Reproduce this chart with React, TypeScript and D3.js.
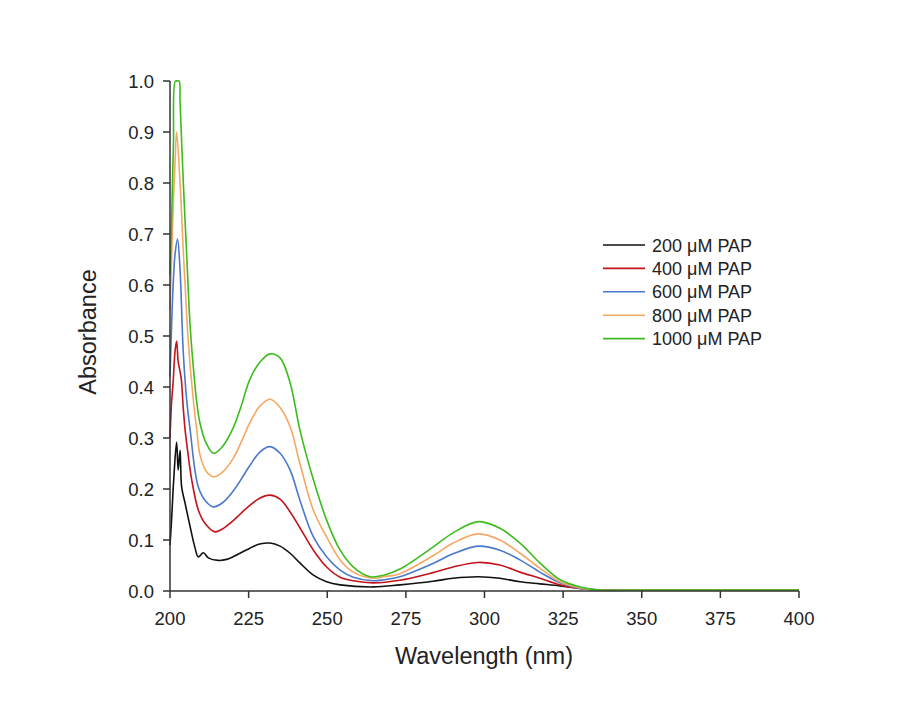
import React from "react";
import * as d3 from "d3";

// ---- data ----
const seriesNames = ["200 \u03bcM PAP", "400 \u03bcM PAP", "600 \u03bcM PAP", "800 \u03bcM PAP", "1000 \u03bcM PAP"];
const seriesColors = ["#111111", "#c3141c", "#4a78cc", "#f6a862", "#3cbc1c"];

const wl200 = [200, 200.5, 201.2, 202.1, 202.6, 203.2, 203.7, 204.8, 206.4, 207.9, 209, 210.6, 212.2, 215.3, 218, 220.7, 225.4, 228.5, 231.8, 235, 238.2, 241.3, 245.6, 249.8, 254.1, 264.6, 273.1, 283.6, 290, 298, 304.9, 311.3, 317.6, 324, 330.4, 336.7, 350, 375, 400];
const abs200 = [0.09, 0.14, 0.22, 0.292, 0.237, 0.276, 0.204, 0.172, 0.126, 0.086, 0.067, 0.075, 0.065, 0.06, 0.062, 0.069, 0.084, 0.092, 0.094, 0.088, 0.074, 0.055, 0.031, 0.018, 0.012, 0.008, 0.012, 0.019, 0.025, 0.028, 0.025, 0.018, 0.014, 0.01, 0.005, 0.002, 0.002, 0.002, 0.002];

const wl400 = [200, 200.5, 201, 201.6, 202.1, 202.6, 203.2, 203.6, 204.2, 204.8, 205.3, 206.9, 209, 211.1, 214.3, 216.5, 220.1, 222.5, 225.4, 228.5, 231.8, 235, 238.2, 241.3, 245.6, 249.8, 254.1, 258.3, 264.6, 273.1, 283.6, 290, 298, 304.9, 311.3, 317.6, 324, 330.4, 336.7, 350, 375, 400];
const abs400 = [0.3, 0.37, 0.41, 0.47, 0.49, 0.45, 0.43, 0.415, 0.36, 0.316, 0.29, 0.218, 0.159, 0.133, 0.116, 0.121, 0.138, 0.152, 0.168, 0.182, 0.188, 0.18, 0.155, 0.124, 0.08, 0.047, 0.027, 0.02, 0.016, 0.021, 0.036, 0.047, 0.056, 0.051, 0.037, 0.025, 0.012, 0.005, 0.002, 0.002, 0.002, 0.002];

const wl600 = [200, 200.5, 201, 201.6, 202.4, 203.2, 204.2, 205.3, 206.4, 209, 211.5, 213.8, 216.5, 220.1, 222.5, 225.4, 228.5, 231.8, 235, 238.2, 241.3, 245.6, 249.8, 254.1, 258.3, 264.6, 268, 273.1, 283.6, 290, 298, 304.9, 311.3, 317.6, 324, 330.4, 336.7, 350, 375, 400];
const abs600 = [0.42, 0.52, 0.6, 0.66, 0.69, 0.63, 0.47, 0.375, 0.316, 0.204, 0.175, 0.165, 0.172, 0.196, 0.218, 0.246, 0.272, 0.283, 0.27, 0.237, 0.178, 0.106, 0.067, 0.041, 0.027, 0.02, 0.022, 0.028, 0.054, 0.073, 0.088, 0.08, 0.061, 0.037, 0.016, 0.005, 0.002, 0.002, 0.002, 0.002];

const wl800 = [200, 200.5, 201, 201.6, 202.1, 203.2, 204.2, 204.8, 205.8, 207.4, 208.5, 209.5, 211.5, 214, 216.5, 220.1, 222.5, 225.4, 228.5, 231.8, 235, 238.2, 241.3, 245.6, 249.8, 254.1, 258.3, 264.6, 268, 273.1, 283.6, 290, 298, 304.9, 311.3, 317.6, 324, 330.4, 336.7, 350, 375, 400];
const abs800 = [0.55, 0.65, 0.75, 0.84, 0.9, 0.8, 0.67, 0.6, 0.49, 0.375, 0.316, 0.268, 0.235, 0.224, 0.232, 0.26, 0.29, 0.33, 0.362, 0.376, 0.36, 0.322, 0.25, 0.158, 0.106, 0.061, 0.037, 0.025, 0.028, 0.034, 0.069, 0.094, 0.112, 0.1, 0.074, 0.045, 0.018, 0.006, 0.002, 0.002, 0.002, 0.002];

const wl1000 = [200, 200.6, 201.1, 201.7, 202.3, 202.9, 203.2, 204.1, 205.3, 206.4, 207.4, 208.5, 209.5, 211.5, 213.8, 216.5, 220.1, 222.5, 225.4, 228.5, 231.8, 235, 238.2, 241.3, 245.6, 249.8, 254.1, 258.3, 263.6, 268, 273.1, 283.6, 290, 298, 304.9, 311.3, 317.6, 324, 330.4, 336.7, 350, 375, 400];
const abs1000 = [0.62, 0.75, 0.88, 1.0, 1.0, 1.0, 0.96, 0.82, 0.66, 0.52, 0.44, 0.37, 0.33, 0.29, 0.27, 0.282, 0.32, 0.36, 0.415, 0.448, 0.465, 0.457, 0.408, 0.316, 0.218, 0.139, 0.08, 0.047, 0.028, 0.031, 0.043, 0.086, 0.114, 0.136, 0.123, 0.094, 0.055, 0.022, 0.008, 0.002, 0.002, 0.002, 0.002];

const seriesWl = [wl200, wl400, wl600, wl800, wl1000];
const seriesAbs = [abs200, abs400, abs600, abs800, abs1000];

const xTicks = [200, 225, 250, 275, 300, 325, 350, 375, 400];
const yTicks = [0.0, 0.1, 0.2, 0.3, 0.4, 0.5, 0.6, 0.7, 0.8, 0.9, 1.0];

const FONT = "'Liberation Sans', Arial, sans-serif";

export default function App() {
  const W = 910, H = 704;
  const x = d3.scaleLinear().domain([200, 400]).range([170, 799]);
  const y = d3.scaleLinear().domain([0, 1]).range([591, 81]);
  const line = d3
    .line<[number, number]>()
    .x((d) => x(d[0]))
    .y((d) => y(d[1]))
    .curve(d3.curveCatmullRom.alpha(0.5));

  const axisColor = "#333";
  const tickLen = 7;

  return (
    <svg
      width={W}
      height={H}
      style={{ position: "absolute", left: 0, top: 0, background: "#fff" }}
      fontFamily={FONT}
    >
      <rect x={0} y={0} width={W} height={H} fill="#fff" />
      {/* series */}
      {seriesWl.map((wl, i) => {
        const pts: [number, number][] = wl.map((w, j) => [w, seriesAbs[i][j]]);
        return (
          <path key={i} d={line(pts) || ""} fill="none" stroke={seriesColors[i]} strokeWidth={1.6} strokeLinejoin="round" />
        );
      })}
      {/* axes */}
      <line x1={170} x2={170} y1={y(0)} y2={y(1)} stroke={axisColor} strokeWidth={1.5} />
      <line x1={170} x2={x(400)} y1={y(0)} y2={y(0)} stroke={axisColor} strokeWidth={1.5} />
      {yTicks.map((t) => (
        <g key={"y" + t}>
          <line x1={170 - tickLen} x2={170} y1={y(t)} y2={y(t)} stroke={axisColor} strokeWidth={1.5} />
          <text x={170 - tickLen - 9} y={y(t) + 6.5} textAnchor="end" fontSize={18.5} fill="#222">
            {t.toFixed(1)}
          </text>
        </g>
      ))}
      {xTicks.map((t) => (
        <g key={"x" + t}>
          <line x1={x(t)} x2={x(t)} y1={y(0)} y2={y(0) + tickLen} stroke={axisColor} strokeWidth={1.5} />
          <text x={x(t)} y={y(0) + 34} textAnchor="middle" fontSize={18.5} fill="#222">
            {t}
          </text>
        </g>
      ))}
      {/* axis titles */}
      <text x={484} y={664} textAnchor="middle" fontSize={23.5} fill="#222">
        Wavelength (nm)
      </text>
      <text transform={`translate(96,332) rotate(-90)`} textAnchor="middle" fontSize={23.5} fill="#222">
        Absorbance
      </text>
      {/* legend */}
      {seriesNames.map((n, i) => {
        const ly = 245 + i * 23.4;
        return (
          <g key={n}>
            <line x1={603} x2={645} y1={ly} y2={ly} stroke={seriesColors[i]} strokeWidth={1.6} />
            <text x={652} y={ly + 6.5} fontSize={18} fill="#222">
              {n}
            </text>
          </g>
        );
      })}
    </svg>
  );
}
